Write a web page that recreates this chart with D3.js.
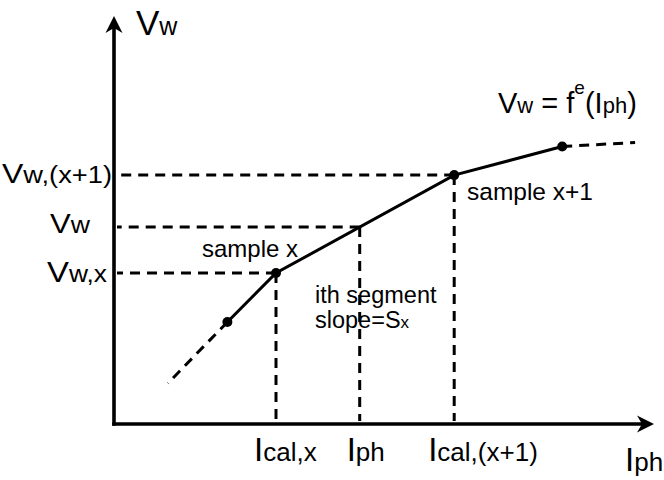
<!DOCTYPE html>
<html>
<head>
<meta charset="utf-8">
<script src="https://cdn.jsdelivr.net/npm/d3@7"></script>
<style>
  html, body { margin: 0; padding: 0; background: #fff; }
  svg { display: block; font-family: "Liberation Sans", Arial, Helvetica, sans-serif; }
  text { fill: #000; }
</style>
</head>
<body>
<svg id="chart" width="664" height="480"></svg>
<script>
// Calibration samples of the piecewise-linear function Vw = f^e(Iph)
const sampleNames = ["x-1", "x", "x+1", "x+2"];
const sampleI = [2.1, 3.0, 6.3, 8.3];
const sampleV = [2.5, 3.7, 6.1, 6.8];
// Dashed continuation beyond the first and last samples
const leadIn = [1.0, 1.0];
const leadOut = [9.65, 6.9];
// Operating photocurrent inside the ith segment
const iphValue = 4.55;
// Axis extents (arbitrary units)
const axisMax = [10, 10];

const svg = d3.select("#chart");
const x = d3.scaleLinear().domain([0, axisMax[0]]).range([114, 654]);
const y = d3.scaleLinear().domain([0, axisMax[1]]).range([424, 16]);

// Vw at Iph from linear interpolation within segment [x, x+1]
const seg = 1;
const t = (iphValue - sampleI[seg]) / (sampleI[seg + 1] - sampleI[seg]);
const vwValue = sampleV[seg] + t * (sampleV[seg + 1] - sampleV[seg]);

const dash = "10,7";
const lw = 3;
const g = svg.append("g");

// Guide lines: horizontal to the V axis, vertical to the I axis
const guides = [
  { i: sampleI[1], v: sampleV[1] },
  { i: iphValue, v: vwValue },
  { i: sampleI[2], v: sampleV[2] }
];
guides.forEach(d => {
  g.append("line")
    .attr("x1", x(d.i)).attr("y1", y(d.v))
    .attr("x2", x(0) + 3).attr("y2", y(d.v))
    .attr("stroke", "#000").attr("stroke-width", lw)
    .attr("stroke-dasharray", dash);
  g.append("line")
    .attr("x1", x(d.i)).attr("y1", y(d.v))
    .attr("x2", x(d.i)).attr("y2", y(0) - 3)
    .attr("stroke", "#000").attr("stroke-width", lw)
    .attr("stroke-dasharray", dash);
});

// Dashed extensions of the curve
g.append("line")
  .attr("x1", x(sampleI[0])).attr("y1", y(sampleV[0]))
  .attr("x2", x(leadIn[0])).attr("y2", y(leadIn[1]))
  .attr("stroke", "#000").attr("stroke-width", lw)
  .attr("stroke-dasharray", dash);
g.append("line")
  .attr("x1", x(sampleI[3])).attr("y1", y(sampleV[3]))
  .attr("x2", x(leadOut[0])).attr("y2", y(leadOut[1]))
  .attr("stroke", "#000").attr("stroke-width", lw)
  .attr("stroke-dasharray", dash);

// Solid piecewise-linear curve through the samples
const pts = sampleI.map((v, k) => [v, sampleV[k]]);
g.append("path")
  .attr("d", d3.line().x(d => x(d[0])).y(d => y(d[1]))(pts))
  .attr("fill", "none").attr("stroke", "#000").attr("stroke-width", lw);

g.selectAll("circle.sample").data(pts).join("circle")
  .attr("class", "sample")
  .attr("cx", d => x(d[0])).attr("cy", d => y(d[1]))
  .attr("r", 5).attr("fill", "#000");

// Axes with arrowheads
g.append("line")
  .attr("x1", x(0)).attr("y1", y(0) + 1.8)
  .attr("x2", x(0)).attr("y2", y(axisMax[1]) + 8)
  .attr("stroke", "#000").attr("stroke-width", 3.6);
g.append("line")
  .attr("x1", x(0) - 1.8).attr("y1", y(0))
  .attr("x2", x(axisMax[0]) - 8).attr("y2", y(0))
  .attr("stroke", "#000").attr("stroke-width", 3.6);

const ax = x(0), ay = y(axisMax[1]);
g.append("path")
  .attr("d", `M${ax},${ay} L${ax + 8.5},${ay + 17} L${ax},${ay + 12} L${ax - 8.5},${ay + 17} Z`)
  .attr("fill", "#000");
const bx = x(axisMax[0]), by = y(0);
g.append("path")
  .attr("d", `M${bx},${by} L${bx - 17},${by - 8.5} L${bx - 12},${by} L${bx - 17},${by + 8.5} Z`)
  .attr("fill", "#000");

// Text helper: runs of [text, fontSize, dy]; optional width stretches the run horizontally
function label(px, py, runs, width) {
  const el = svg.append("text").attr("x", 0).attr("y", 0)
    .attr("transform", `translate(${px},${py})`);
  runs.forEach(r => {
    const s = el.append("tspan").attr("font-size", r[1]).text(r[0]);
    if (r[2]) s.attr("dy", r[2]);
  });
  if (width) {
    const w = el.node().getComputedTextLength();
    el.attr("transform", `translate(${px},${py}) scale(${width / w},1)`);
  }
  return el;
}

// Axis titles
label(x(0) + 22, 35, [["V", 35], ["w", 25]]);
label(625, 471, [["I", 33], ["ph", 26]]);

// V-axis labels
label(2, y(sampleV[2]) + 8, [["V", 27], ["w,(x+1)", 23]], 110);
label(50, y(vwValue) + 6, [["V", 28], ["w", 24]], 40);
label(47, y(sampleV[1]) + 9, [["V", 30], ["w,x", 24]], 60);

// I-axis labels
label(x(sampleI[1]) - 22, 461, [["I", 33], ["cal,x", 26]]);
label(x(iphValue) - 13, 461, [["I", 33], ["ph", 26]]);
label(x(sampleI[2]) - 26, 461, [["I", 33], ["cal,(x+1)", 26]]);

// Annotations
label(202, 257, [["sample x", 24]]);
label(467, 200, [["sample x+1", 24.5]]);
label(315, 303, [["ith segment", 23.5]]);
label(315, 328, [["slope=S", 23.5], ["x", 17]]);

// Function label
label(498, 113, [["V", 29], ["w", 22], [" = f", 29], ["e", 19, -19], ["(", 29, 19], ["I", 29], ["ph", 22], [")", 29]]);
</script>
</body>
</html>
